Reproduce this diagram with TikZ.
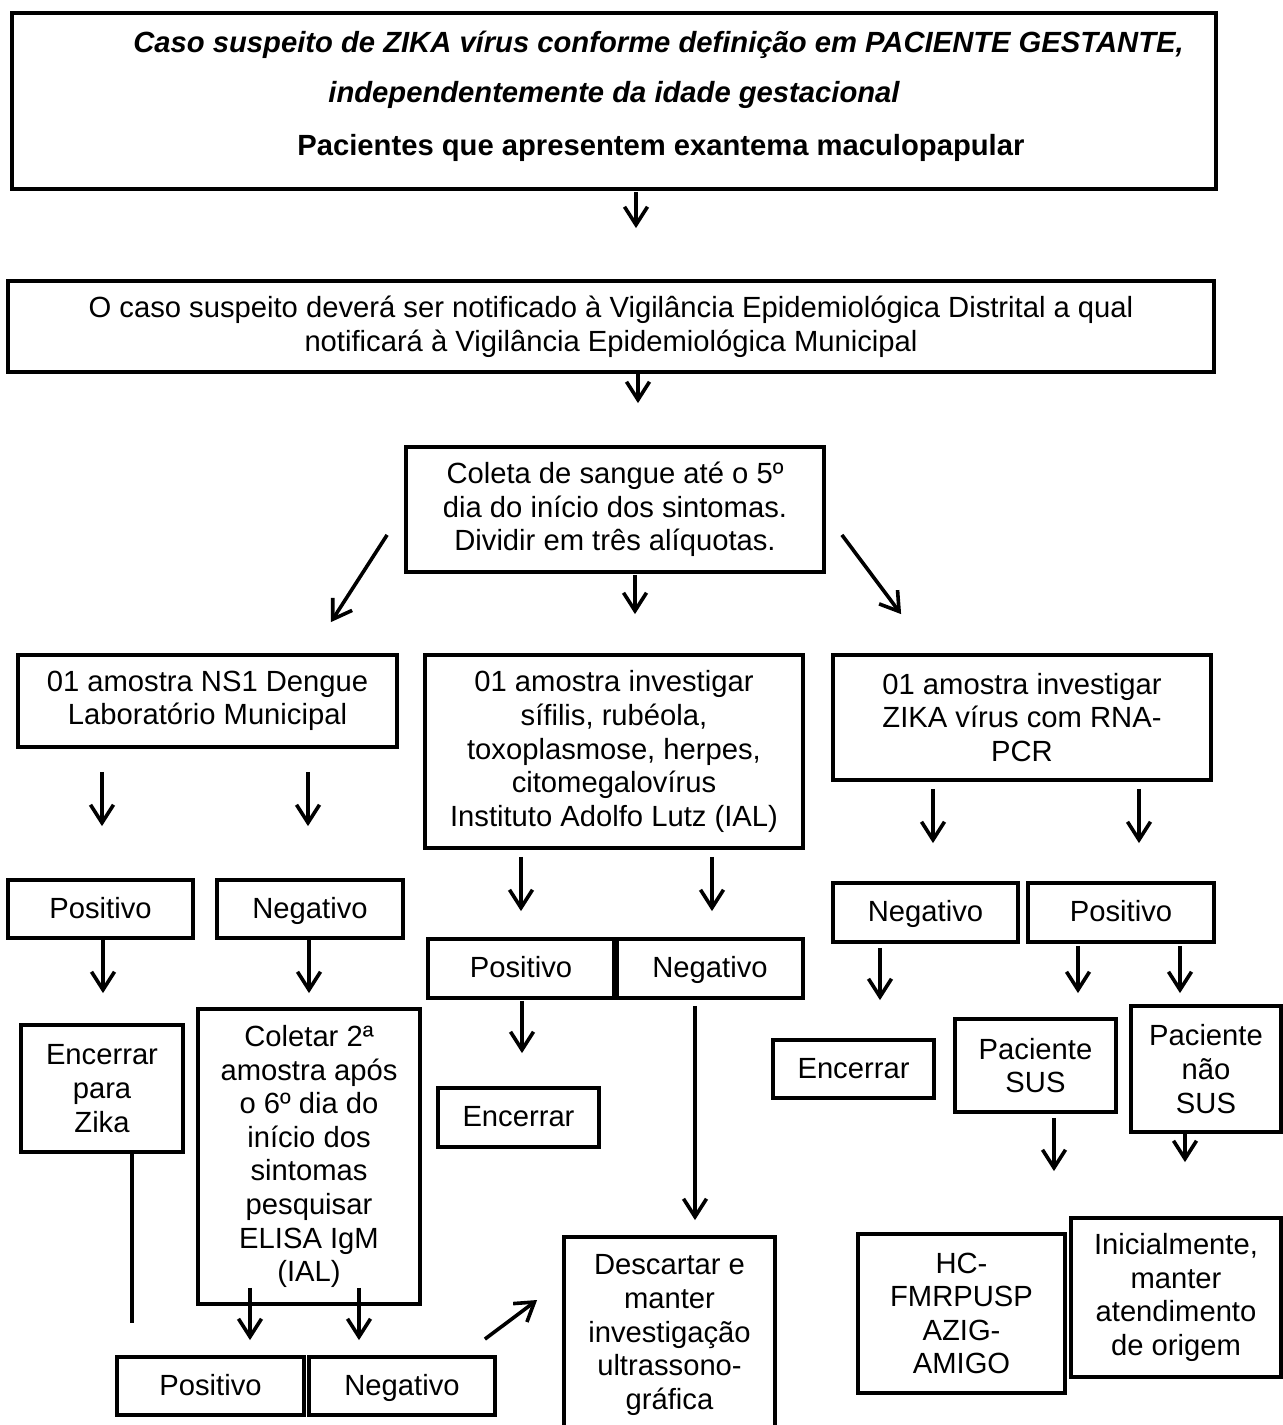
\documentclass[tikz,border=0pt]{standalone}
\usepackage{fontspec}
\setmainfont{Liberation Sans}
\usetikzlibrary{positioning, arrows.meta, calc}
\newcommand{\boxfont}{\fontsize{14.6}{16.8}\selectfont}

\begin{document}
\begin{tikzpicture}[
    x=0.5pt, y=-0.5pt,
    % Styles
    box/.style={% For all the boxes
        rectangle,
        draw,
        line width=1.9pt,
        align=center,
        inner sep=2pt,
        font=\boxfont,
        },
    res/.style={% For one-line boxes
        box,
        text height=10.5pt,
        text depth=1.5pt,
        },
    txt/.style={% For the text lines of the first box
        inner sep=0pt,
        anchor=base west,
        font=\boxfont,
        },
    arr/.style={% Arrows with open heads
        line width=1.8pt,
        -{Straight Barb[length=9pt,width=11.5pt]},
        },
    line/.style={% Plain line
        line width=1.8pt,
        },
    ]

    \useasboundingbox (0,0) rectangle (1283,1425);

    %Draw the boxes
    %top
    \node [box, minimum width=602pt, minimum height=88pt] (caso) at (614,101) {};
    \node [txt] (caso1) at (133,52) {\textbf{\textit{Caso suspeito de ZIKA vírus conforme definição em PACIENTE GESTANTE,}}};
    \node [txt] (caso2) at (328,102) {\textbf{\textit{independentemente da idade gestacional}}};
    \node [txt] (caso3) at (297,155) {\textbf{Pacientes que apresentem exantema maculopapular}};
    \node [box, minimum width=603pt, minimum height=45.5pt] (notif) at (611,326.5)
        {O caso suspeito deverá ser notificado à Vigilância Epidemiológica Distrital a qual\\
         notificará à Vigilância Epidemiológica Municipal};
    \node [box, minimum width=209pt, minimum height=62.5pt] (coleta) at (615,509.5)
        {Coleta de sangue até o 5º\\ dia do início dos sintomas.\\ Dividir em três alíquotas.};

    %three samples
    \node [box, minimum width=189.5pt, minimum height=46pt] (ns1) at (207.5,701)
        {01 amostra NS1 Dengue\\ Laboratório Municipal};
    \node [box, minimum width=189pt, minimum height=96.5pt] (ial) at (614,751.5)
        {01 amostra investigar\\ sífilis, rubéola,\\ toxoplasmose, herpes,\\ citomegalovírus\\ Instituto Adolfo Lutz (IAL)};
    \node [box, minimum width=189pt, minimum height=62.5pt] (rna) at (1022,717.5)
        {01 amostra investigar\\ ZIKA vírus com RNA-\\ PCR};

    %results
    \node [res, minimum width=92.5pt, minimum height=29pt] (posL) at (100.5,909) {Positivo};
    \node [res, minimum width=93pt, minimum height=29pt] (negL) at (310,909) {Negativo};
    \node [res, minimum width=93pt, minimum height=29.5pt] (posM) at (521,968.5) {Positivo};
    \node [res, minimum width=93pt, minimum height=29.5pt] (negM) at (710,968.5) {Negativo};
    \node [res, minimum width=92.5pt, minimum height=29.5pt] (negR) at (925.5,912.5) {Negativo};
    \node [res, minimum width=93pt, minimum height=29.5pt] (posR) at (1121,912.5) {Positivo};

    %next steps
    \node [box, minimum width=81pt, minimum height=63.5pt] (encZ) at (102,1088.5) {Encerrar\\ para\\ Zika};
    \node [box, minimum width=111pt, minimum height=147.5pt] (col2) at (309,1156.5)
        {Coletar 2ª\\ amostra após\\ o 6º dia do\\ início dos\\ sintomas\\ pesquisar\\ ELISA IgM\\ (IAL)};
    \node [res, minimum width=80.5pt, minimum height=29.5pt] (encM) at (518.5,1117.5) {Encerrar};
    \node [res, minimum width=80.5pt, minimum height=29pt] (encR) at (853.5,1069) {Encerrar};
    \node [box, minimum width=80.5pt, minimum height=46.5pt] (sus) at (1035.5,1065.5) {Paciente\\ SUS};
    \node [box, minimum width=75pt, minimum height=63pt] (nsus) at (1206,1069) {Paciente\\ não\\ SUS};

    %bottom row
    \node [box, minimum width=103.5pt, minimum height=79.5pt] (hc) at (961.5,1313.5) {HC-\\ FMRPUSP\\ AZIG-\\ AMIGO};
    \node [box, minimum width=105pt, minimum height=79.5pt] (ini) at (1176,1297.5) {Inicialmente,\\ manter\\ atendimento\\ de origem};
    \node [box, minimum width=105.5pt, minimum height=98pt] (desc) at (669.5,1335)
        {Descartar e\\ manter\\ investigação\\ ultrassono-\\ gráfica};
    \node [res, minimum width=93.5pt, minimum height=29pt] (posB) at (210.5,1386) {Positivo};
    \node [res, minimum width=93pt, minimum height=29pt] (negB) at (402,1386) {Negativo};

    % Draw Arrows
    % top part
    \draw [arr] ($(caso.south)+(22,1)$) -- ($(notif.north)+(25,-51)$);
    \draw [arr] ($(notif.south)+(27,0)$) -- ($(coleta.north)+(23,-42)$);
    \draw [arr] ($(coleta.south west)+(-17,-39)$) -- ($(ns1.north east)+(-68,-31)$);
    \draw [arr] ($(coleta.south)+(20,1)$) -- ($(ial.north)+(21,-39)$);
    \draw [arr] ($(coleta.south east)+(16,-39)$) -- ($(rna.north west)+(70,-39)$);

    % left column
    \draw [arr] ($(ns1.south -| posL.north)+(1.5,23)$) -- ($(posL.north)+(1.5,-52)$);
    \draw [arr] ($(ns1.south -| negL.north)+(-2,23)$) -- ($(negL.north)+(-2,-52)$);
    \draw [arr] ($(posL.south)+(2.5,0)$) -- ($(encZ.north)+(1,-30)$);
    \draw [arr] ($(negL.south)+(-1,0)$) -- ($(col2.north)+(0,-14)$);
    \draw [line] ($(encZ.south)+(30,0)$) -- ($(encZ.south)+(30,169)$);
    \draw [arr] ($(col2.south)+(-59,-18)$) -- ($(posB.north)+(39.5,-15)$);
    \draw [arr] ($(col2.south)+(50,-18)$) -- ($(negB.north)+(-43,-15)$);
    \draw [arr] ($(negB.north east)+(-12,-16)$) -- ($(desc.west)+(-25,-35)$);

    % middle column
    \draw [arr] ($(ial.south -| posM.north)+(0,7)$) -- ($(posM.north)+(0,-26)$);
    \draw [arr] ($(ial.south -| negM.north)+(2,7)$) -- ($(negM.north)+(2,-26)$);
    \draw [arr] ($(posM.south)+(1,1)$) -- ($(encM.north)+(3.5,-33)$);
    \draw [arr] ($(negM.south)+(-15,6)$) -- ($(desc.north)+(25.5,-15)$);

    % right column
    \draw [arr] ($(rna.south -| negR.north)+(7.5,7)$) -- ($(negR.north)+(7.5,-38)$);
    \draw [arr] ($(rna.south -| posR.north)+(18,7)$) -- ($(posR.north)+(18,-38)$);
    \draw [arr] ($(negR.south)+(-45.5,4)$) -- ($(encR.north)+(26.5,-38)$);
    \draw [arr] ($(posR.south)+(-43,2)$) -- ($(sus.north)+(42.5,-24)$);
    \draw [arr] ($(posR.south)+(59,2)$) -- ($(nsus.north)+(-26,-11)$);
    \draw [arr] ($(sus.south)+(18.5,4)$) -- ($(hc.north)+(92.5,-61)$);
    \draw [arr] ($(nsus.south)+(-21,0)$) -- ($(ini.north)+(9,-54)$);

\end{tikzpicture}
\end{document}
